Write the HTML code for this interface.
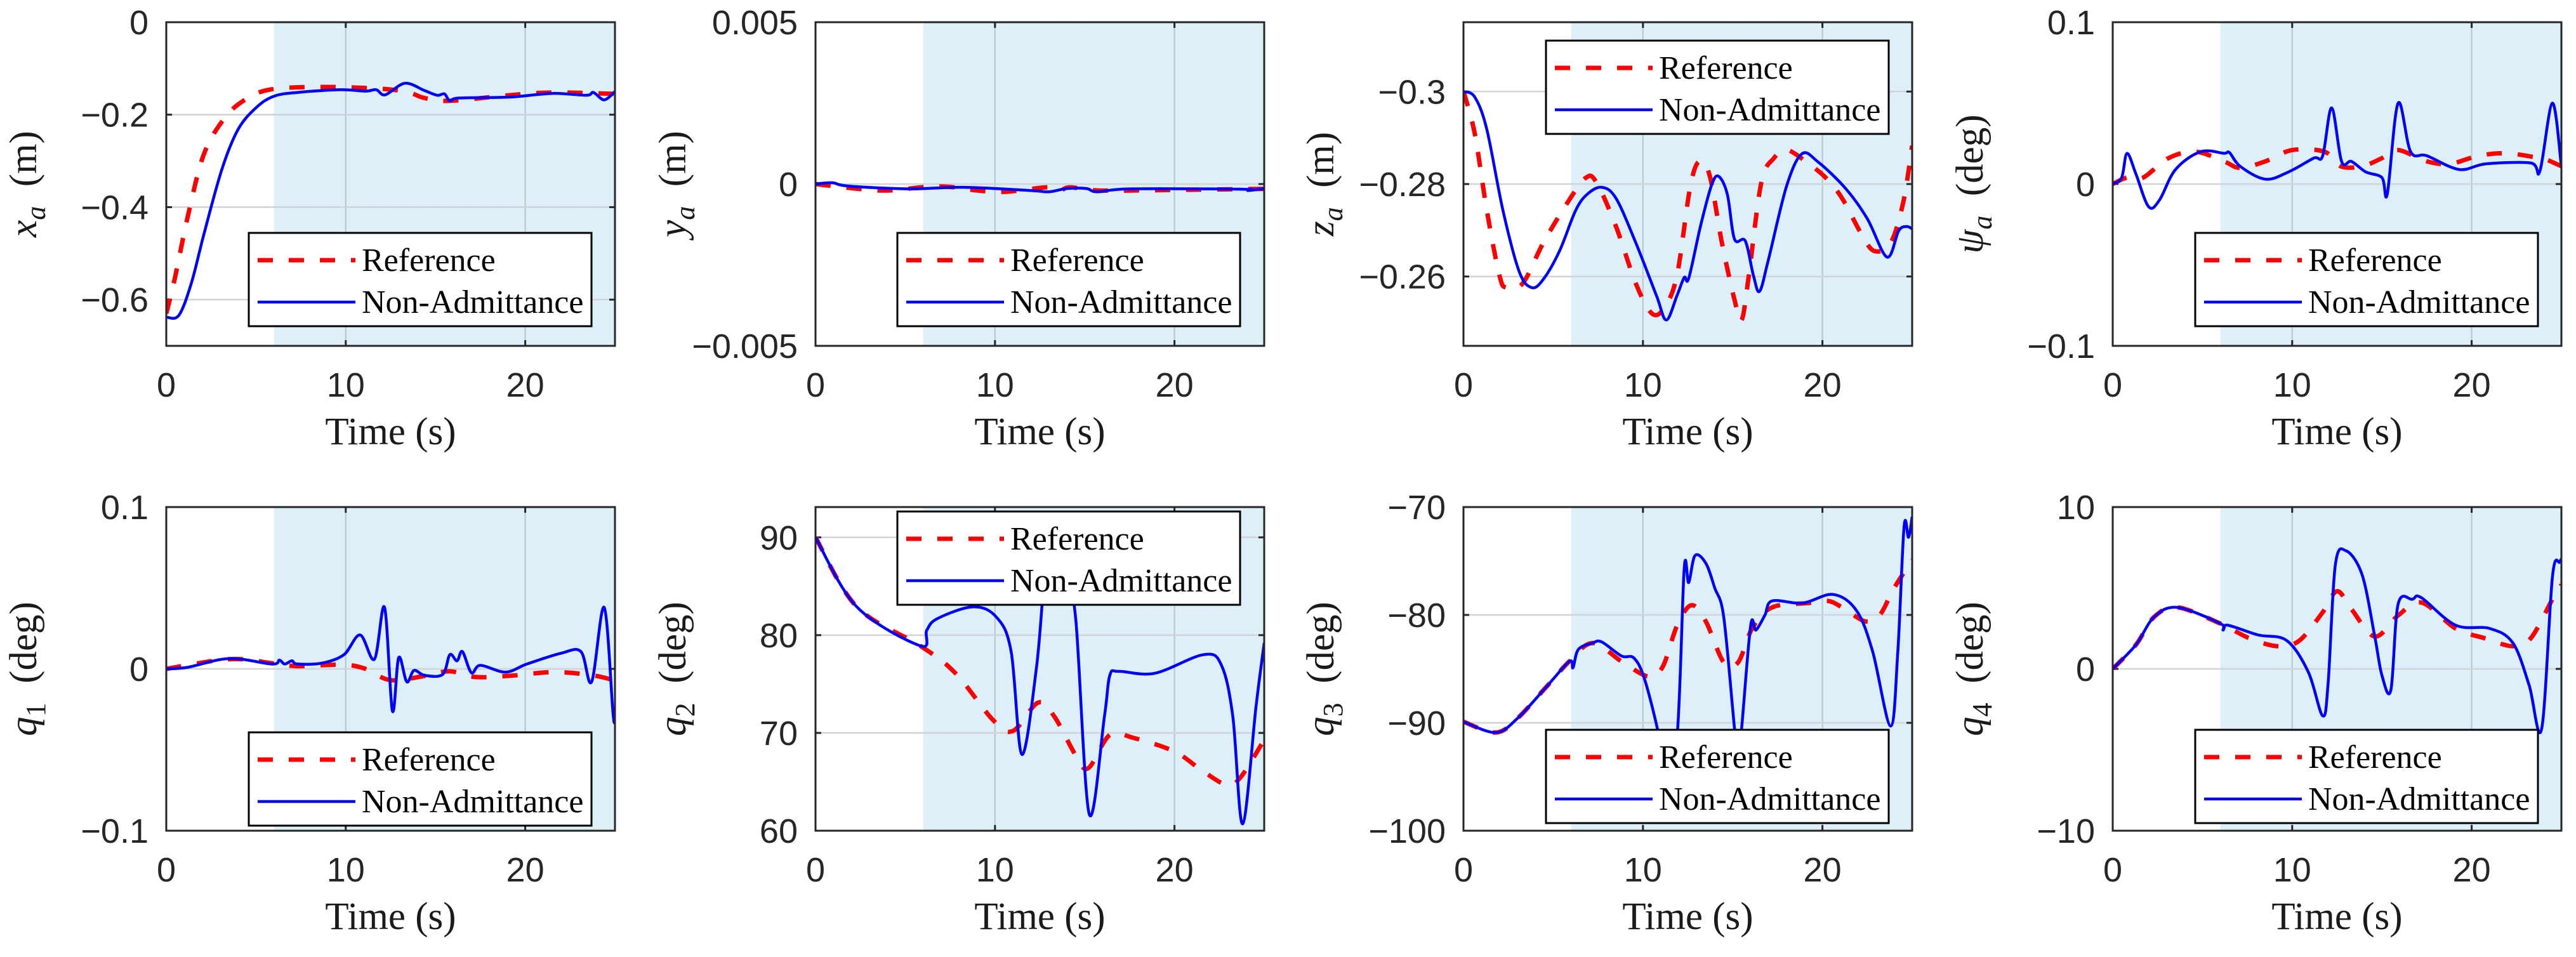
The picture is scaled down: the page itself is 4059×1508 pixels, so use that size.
<!DOCTYPE html>
<html><head><meta charset="utf-8"><style>
html,body{margin:0;padding:0;background:#fff;}
svg{display:block;}
</style></head><body>
<svg id="fig" xmlns="http://www.w3.org/2000/svg" width="4059" height="1508" viewBox="0 0 4059 1508"></svg>
<script>
// ---- Data (t in seconds, value) ----
const xaRefT=[0,0.5,1.2,2.1,3.3,4.5,5.9,8.7,12,13.5,14.4,15.8,19.1,21.5,25];
const xaRefV=[-0.63,-0.55,-0.42,-0.285,-0.205,-0.165,-0.145,-0.14,-0.144,-0.152,-0.164,-0.17,-0.158,-0.152,-0.155];
const xaNaT=[0,0.7,1.4,2.1,3.1,4,5,6,7.3,9.7,11.1,11.7,12.2,13.3,14.4,15.1,15.5,15.8,16.3,19.1,21.5,23.4,23.8,24.4,25];
const xaNaV=[-0.638,-0.634,-0.564,-0.458,-0.318,-0.232,-0.185,-0.16,-0.152,-0.146,-0.149,-0.146,-0.157,-0.132,-0.148,-0.158,-0.155,-0.17,-0.164,-0.162,-0.154,-0.158,-0.152,-0.168,-0.15];
const yaRefT=[0,3.6,5.9,7.3,9,10.6,12.9,13.6,14.2,15.8,20.3,25];
const yaRefV=[0,-0.0002,-0.0001,-0.00008,-0.0002,-0.00024,-0.0001,-0.0002,-0.0001,-0.0002,-0.00018,-0.00015];
const yaNaT=[0,0.95,1.8,5.2,8.2,12,13,14,15.1,15.7,17.6,23.9,24.1,25];
const yaNaV=[0,0.00004,-0.00006,-0.00015,-0.0001,-0.0002,-0.00024,-0.00014,-0.00014,-0.00024,-0.00015,-0.00016,-0.0002,-0.00014];
const zaRefT=[0,0.63,1.3,2,2.4,3.3,4.45,5.8,6.8,7.4,8.5,9.6,10.5,11.2,11.9,12.6,13.1,13.7,14.4,15.1,15.5,15.9,16.6,17.3,18,19.1,20.2,21.1,22.2,22.9,23.8,24.5,25];
const zaRefV=[-0.3,-0.2909,-0.2743,-0.2603,-0.2576,-0.2585,-0.2673,-0.276,-0.2813,-0.2804,-0.2708,-0.2585,-0.252,-0.2533,-0.2603,-0.2786,-0.2848,-0.2821,-0.2673,-0.255,-0.2506,-0.2603,-0.2804,-0.2856,-0.2874,-0.2848,-0.2813,-0.2769,-0.269,-0.2655,-0.2673,-0.276,-0.2883];
const zaNaT=[0,0.63,1.3,2.2,3.1,3.8,4.45,5.35,6.25,6.9,7.7,8.5,9.6,10.75,11.3,11.9,12.3,12.55,13.2,13.8,14.2,14.7,15.1,15.7,16.15,16.5,17,18,18.85,19.75,21.3,22.5,23.6,24.25,24.7,25];
const zaNaV=[-0.3,-0.2988,-0.2918,-0.2743,-0.2611,-0.2576,-0.2594,-0.2655,-0.2743,-0.2778,-0.2793,-0.2769,-0.2673,-0.2559,-0.2506,-0.2559,-0.2598,-0.2596,-0.2708,-0.2795,-0.2817,-0.2778,-0.2681,-0.2677,-0.2603,-0.2568,-0.2638,-0.2795,-0.2865,-0.2848,-0.279,-0.2725,-0.2642,-0.2699,-0.2708,-0.2703];
const psRefT=[0,0.8,1.7,3.1,4.6,6.2,7.1,8.5,10,11.8,12.7,13.9,15,15.9,17.5,18.8,20.4,22,23.8,24.2,25];
const psRefV=[0,0.004,0.004,0.016,0.02,0.014,0.01,0.014,0.021,0.02,0.011,0.011,0.016,0.021,0.014,0.0125,0.0175,0.019,0.016,0.015,0.011];
const psNaT=[0,0.5,0.8,1.3,2,2.6,3.5,4.9,6.2,6.5,7.1,8.5,9.8,11.2,11.7,12.2,12.75,13.3,14.1,15,15.3,15.9,16.6,17.5,19.3,20.8,23.3,23.8,24.5,25];
const psNaV=[0,0.004,0.019,0.006,-0.014,-0.01,0.009,0.02,0.019,0.0195,0.011,0.003,0.0075,0.016,0.0175,0.047,0.014,0.014,0.0075,0.004,-0.006,0.05,0.02,0.0175,0.009,0.0125,0.013,0.008,0.05,0.011];
const q1RefT=[0,3.5,5.9,7.3,9.7,11,12.5,14.4,15.8,17.2,19.1,21.5,23.4,24.6,25];
const q1RefV=[0,0.006,0.0035,0.0017,0.0026,0.0004,-0.007,-0.0043,-0.0015,-0.005,-0.0043,-0.002,-0.0034,-0.006,-0.008];
const q1NaT=[0,1.2,3.5,5.9,6.3,6.6,7,7.3,8.7,9.9,10.8,11.6,12.16,12.6,12.95,13.4,13.8,14.4,15.4,15.8,16.2,16.5,17,17.5,18.9,20.1,22,23.1,23.7,24.4,24.9,25];
const q1NaV=[0,0.001,0.0064,0.003,0.0054,0.003,0.005,0.003,0.0036,0.0088,0.021,0.006,0.038,-0.026,0.007,-0.008,-0.001,-0.004,-0.0034,0.0088,0.005,0.0107,-0.0024,0.0022,-0.002,0.003,0.0097,0.0107,-0.008,0.038,-0.0286,-0.028];
const q2RefT=[0,2.3,5.85,7.8,9.9,11,12.4,13.3,14.5,15.2,16.4,17.7,20,21.5,22.9,23.7,25];
const q2RefV=[90,82.9,78.9,76.1,71.3,70.2,73.1,71.7,67.7,66.4,69.8,69.5,68.1,66.2,64.7,65.5,69.3];
const q2NaT=[0,2.3,5.85,6.2,6.8,8.8,10.1,10.9,11.5,12.3,12.7,12.85,14,14.5,15.25,16.1,16.4,16.9,18.9,21.6,22.6,23.25,23.8,24.55,25];
const q2NaV=[90,82.9,78.9,80.5,81.7,82.9,81.8,78.3,67.8,76.5,84.9,87,84.9,81.6,61.7,71.7,75.9,76.3,76.1,78,77,71.7,60.7,72.8,79.2];
const q3RefT=[0,1.8,3,4.6,5.9,7.2,8.8,10.3,11.1,11.9,12.7,13.5,14.5,15.3,16.1,17.2,19.2,20.3,21.1,22.4,23.2,24,25];
const q3RefV=[-89.9,-90.9,-89.6,-86.7,-84.3,-82.6,-84.3,-85.7,-84.8,-81,-79.1,-80.6,-84.4,-84.4,-81.2,-79.3,-78.9,-78.7,-79.3,-80.6,-80,-77.5,-74.9];
const q3NaT=[0,1.8,3,4.6,5.9,6.1,6.4,7.2,7.7,8.8,9.5,10.1,10.9,11.2,11.9,12.3,12.55,12.9,13.5,14,14.5,15.1,15.3,15.5,16,16.3,16.8,17.2,18.9,20.6,21.9,22.8,23.8,24.2,24.55,24.8,25];
const q3NaV=[-89.9,-90.9,-89.6,-86.7,-84.3,-84.9,-83.2,-82.6,-82.5,-83.8,-84,-86,-91.3,-95,-91.3,-75.7,-77,-74.5,-75.2,-77.5,-80.2,-90.5,-93,-90.5,-81,-81.4,-80,-78.7,-78.9,-78.1,-79.6,-83.4,-90.3,-83.4,-71.8,-72.8,-70.9];
const q4RefT=[0,1.3,2.3,3.6,6,7.6,9.2,10.4,11.7,12.5,13.3,14.6,15.9,17.2,19.1,20.7,22.3,23.3,24.5,25];
const q4RefV=[0,1.5,3.2,3.8,2.8,1.9,1.4,1.75,3.5,4.8,3.7,2,3.3,4.1,2.5,1.9,1.4,1.9,4.3,5.2];
const q4NaT=[0,1.3,2.3,3.6,6,6.15,6.4,8.1,9.7,10.9,11.7,12,12.4,13,13.9,14.6,15,15.5,15.9,16.7,17.2,19.1,21,22.3,23.2,23.9,24.5,24.9,25];
const q4NaV=[0,1.5,3.2,3.8,2.8,2.4,2.7,2.1,1.75,-0.2,-2.9,-0.9,6.4,7.3,5.8,2,-0.4,-1.3,4,4.3,4.4,2.7,2.5,1.6,-1,-3.7,5.7,6.6,6.8];
const xTicks=[0,10,20];
const xaTicks=[0,-0.2,-0.4,-0.6], xaTickLbl=["0","−0.2","−0.4","−0.6"];
const yaTicks=[0.005,0,-0.005], yaTickLbl=["0.005","0","−0.005"];
const zaTicks=[-0.3,-0.28,-0.26], zaTickLbl=["−0.3","−0.28","−0.26"];
const psTicks=[0.1,0,-0.1], psTickLbl=["0.1","0","−0.1"];
const q1Ticks=[0.1,0,-0.1], q1TickLbl=["0.1","0","−0.1"];
const q2Ticks=[90,80,70,60], q2TickLbl=["90","80","70","60"];
const q3Ticks=[-70,-80,-90,-100], q3TickLbl=["−70","−80","−90","−100"];
const q4Ticks=[10,0,-10], q4TickLbl=["10","0","−10"];

const NS="http://www.w3.org/2000/svg";
const svg=document.getElementById('fig');
function mk(tag,attrs,parent){const e=document.createElementNS(NS,tag);for(const k in attrs)e.setAttribute(k,attrs[k]);(parent||svg).appendChild(e);return e;}

const W=707,H=510;
const panels=[
 {id:'xa',L:262,T:35,ymin:-0.7,ymax:0,rev:false,ticks:xaTicks,lbl:xaTickLbl,rT:xaRefT,rV:xaRefV,nT:xaNaT,nV:xaNaV,v:'x',sub:'a',unit:'(m)',leg:[130,332]},
 {id:'ya',L:1285,T:35,ymin:-0.005,ymax:0.005,rev:false,ticks:yaTicks,lbl:yaTickLbl,rT:yaRefT,rV:yaRefV,nT:yaNaT,nV:yaNaV,v:'y',sub:'a',unit:'(m)',leg:[129,332]},
 {id:'za',L:2306,T:35,ymin:-0.315,ymax:-0.245,rev:true,ticks:zaTicks,lbl:zaTickLbl,rT:zaRefT,rV:zaRefV,nT:zaNaT,nV:zaNaV,v:'z',sub:'a',unit:'(m)',leg:[130,29]},
 {id:'psi',L:3329,T:35,ymin:-0.1,ymax:0.1,rev:false,ticks:psTicks,lbl:psTickLbl,rT:psRefT,rV:psRefV,nT:psNaT,nV:psNaV,v:'ψ',sub:'a',unit:'(deg)',leg:[130,332]},
 {id:'q1',L:262,T:799,ymin:-0.1,ymax:0.1,rev:false,ticks:q1Ticks,lbl:q1TickLbl,rT:q1RefT,rV:q1RefV,nT:q1NaT,nV:q1NaV,v:'q',sub:'1',unit:'(deg)',leg:[130,355]},
 {id:'q2',L:1285,T:799,ymin:60,ymax:93.1,rev:false,ticks:q2Ticks,lbl:q2TickLbl,rT:q2RefT,rV:q2RefV,nT:q2NaT,nV:q2NaV,v:'q',sub:'2',unit:'(deg)',leg:[129,7]},
 {id:'q3',L:2306,T:799,ymin:-100,ymax:-70,rev:false,ticks:q3Ticks,lbl:q3TickLbl,rT:q3RefT,rV:q3RefV,nT:q3NaT,nV:q3NaV,v:'q',sub:'3',unit:'(deg)',leg:[130,351]},
 {id:'q4',L:3329,T:799,ymin:-10,ymax:10,rev:false,ticks:q4Ticks,lbl:q4TickLbl,rT:q4RefT,rV:q4RefV,nT:q4NaT,nV:q4NaV,v:'q',sub:'4',unit:'(deg)',leg:[130,351]}
];
const defs=mk('defs',{});
function path(pts){ // catmull-rom smooth
 let d='M'+pts[0][0].toFixed(1)+','+pts[0][1].toFixed(1);
 for(let i=0;i<pts.length-1;i++){
  const p0=pts[Math.max(0,i-1)],p1=pts[i],p2=pts[i+1],p3=pts[Math.min(pts.length-1,i+2)];
  const c1=[p1[0]+(p2[0]-p0[0])/6,p1[1]+(p2[1]-p0[1])/6],c2=[p2[0]-(p3[0]-p1[0])/6,p2[1]-(p3[1]-p1[1])/6];
  d+=' C'+c1[0].toFixed(1)+','+c1[1].toFixed(1)+' '+c2[0].toFixed(1)+','+c2[1].toFixed(1)+' '+p2[0].toFixed(1)+','+p2[1].toFixed(1);
 }
 return d;
}
panels.forEach(p=>{
 const g=mk('g',{});
 
 
 const X=t=>p.L+t/25*W;
 const Y=v=>p.rev? p.T+(v-p.ymin)/(p.ymax-p.ymin)*H : p.T+H-(v-p.ymin)/(p.ymax-p.ymin)*H;
 const cp=mk('clipPath',{id:'clip-'+p.id},defs);
 mk('rect',{x:p.L,y:p.T,width:W,height:H},cp);
 const shade=mk('rect',{x:X(6),y:p.T,width:X(25)-X(6),height:H,fill:'#ddeff8'},g);
 
 
 xTicks.forEach(t=>{
  if(t>0){const gl=mk('line',{x1:X(t),x2:X(t),y1:p.T,y2:p.T+H,stroke:'#b8c4cc','stroke-width':2},g);
   }
  mk('line',{x1:X(t),x2:X(t),y1:p.T+H,y2:p.T+H-9,stroke:'#262626','stroke-width':3},g);
  mk('line',{x1:X(t),x2:X(t),y1:p.T,y2:p.T+9,stroke:'#262626','stroke-width':3},g);
  const tl=mk('text',{x:X(t),y:p.T+H+80,'font-family':'Liberation Sans, sans-serif','font-size':54,'text-anchor':'middle',fill:'#262626'},g);
  tl.textContent=t;
  
 });
 p.ticks.forEach((v,i)=>{
  const y=Y(v);
  if(y>p.T+2&&y<p.T+H-2){const gl=mk('line',{x1:p.L,x2:p.L+W,y1:y,y2:y,stroke:'#d0d4d6','stroke-width':2.5},g);
   }
  mk('line',{x1:p.L,x2:p.L+9,y1:y,y2:y,stroke:'#262626','stroke-width':3},g);
  mk('line',{x1:p.L+W,x2:p.L+W-9,y1:y,y2:y,stroke:'#262626','stroke-width':3},g);
  const tl=mk('text',{x:p.L-28,y:y+19,'font-family':'Liberation Sans, sans-serif','font-size':54,'text-anchor':'end',fill:'#262626'},g);
  tl.textContent=p.lbl[i];
  
 });
 const cg=mk('g',{'clip-path':'url(#clip-'+p.id+')'},g);
 const ref=mk('path',{d:path(p.rT.map((t,i)=>[X(t),Y(p.rV[i])])),fill:'none',stroke:'#ff0000','stroke-width':7,'stroke-dasharray':'24 25'},cg);
 
 const na=mk('path',{d:path(p.nT.map((t,i)=>[X(t),Y(p.nV[i])])),fill:'none',stroke:'#0000ff','stroke-width':4.5,'stroke-linejoin':'round'},cg);
 
 const box=mk('rect',{x:p.L,y:p.T,width:W,height:H,fill:'none',stroke:'#262626','stroke-width':3},g);
 
 // legend
 const lg=mk('g',{},g);
 
 const lx=p.L+p.leg[0],ly=p.T+p.leg[1];
 mk('rect',{x:lx,y:ly,width:540,height:147,fill:'#fff',stroke:'#000','stroke-width':3},lg);
 mk('line',{x1:lx+14,x2:lx+168,y1:ly+43,y2:ly+43,stroke:'#ff0000','stroke-width':7,'stroke-dasharray':'24 25'},lg);
 mk('line',{x1:lx+14,x2:lx+168,y1:ly+109,y2:ly+109,stroke:'#0000ff','stroke-width':4.5},lg);
 const t1=mk('text',{x:lx+178,y:ly+60,'font-family':'Liberation Serif, serif','font-size':52,fill:'#000'},lg);
 t1.textContent='Reference';
 
 const t2=mk('text',{x:lx+178,y:ly+126,'font-family':'Liberation Serif, serif','font-size':52,fill:'#000'},lg);
 t2.textContent='Non-Admittance';
 
 // axis labels
 const xl=mk('text',{x:p.L+W/2,y:p.T+H+155,'font-family':'Liberation Serif, serif','font-size':61,'text-anchor':'middle',fill:'#1a1a1a'},g);
 xl.textContent='Time (s)';
 
 const cx=p.L-205, cy=p.T+H/2;
 const yl=mk('text',{x:0,y:0,transform:'translate('+cx+','+cy+') rotate(-90)','font-family':'Liberation Serif, serif','font-size':61,'text-anchor':'middle',fill:'#1a1a1a'},g);
 
 const s1=mk('tspan',{'font-style':'italic'},yl);s1.textContent=p.v;
 const s2=mk('tspan',{'font-style':p.sub==='a'?'italic':'normal','font-size':44,dy:14},yl);s2.textContent=p.sub;
 const s3=mk('tspan',{dy:-14},yl);s3.textContent='\u00a0\u00a0'+p.unit;
});
</script>
</body></html>
